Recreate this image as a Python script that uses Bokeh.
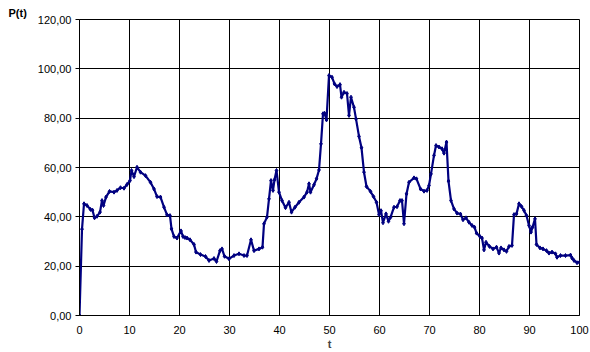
from bokeh.plotting import figure
from bokeh.models import Range1d, FixedTicker, CustomJSTickFormatter, Title, ColumnDataSource
from bokeh.embed import file_html
from bokeh.resources import INLINE

# time axis samples and the measured P(t) values
t = [0, 0.5, 0.9, 1.5, 2.2, 2.6, 3.0, 3.5, 4.1, 4.5, 4.8, 5.3, 6.0, 6.9, 7.5, 8.2, 8.9, 9.5,
     10.1, 10.4, 10.9, 11.5, 12.2, 13.2, 14.2, 14.9, 15.5, 16.2, 16.9, 17.5, 18.1, 18.4, 18.9, 19.5,
     20.3, 20.7, 21.1, 21.5, 22.1, 22.9, 23.3, 24.2, 25.2, 25.9, 26.9, 27.4, 28.1, 28.5, 29.0, 29.9,
     30.9, 31.9, 32.9, 33.5, 34.3, 34.9, 35.9, 36.6, 36.9, 37.5, 37.9, 38.3, 38.7, 39.0, 39.4, 39.9,
     40.5, 41.2, 41.9, 42.4, 43.1, 43.9, 44.9, 45.5, 45.9, 46.2, 46.9, 47.4, 47.9, 48.3, 48.7, 49.0,
     49.4, 49.9, 50.5, 51.0, 51.5, 52.1, 52.4, 52.9, 53.5, 53.9, 54.3, 54.9, 55.3, 55.9, 56.4, 56.9,
     57.4, 58.2, 58.8, 59.4, 59.9, 60.3, 60.7, 61.3, 61.8, 62.2, 62.9, 63.5, 64.1, 64.5, 64.9, 65.4,
     65.9, 66.9, 67.4, 68.2, 68.9, 69.5, 69.9, 70.3, 70.9, 71.3, 71.9, 72.5, 72.9, 73.4, 73.8, 74.3,
     74.9, 75.5, 76.2, 76.7, 77.3, 77.9, 78.5, 79.0, 79.4, 80.1, 80.5, 80.9, 81.3, 82.0, 82.7, 83.4,
     83.9, 84.3, 84.9, 85.4, 85.9, 86.5, 86.9, 87.4, 87.9, 88.4, 88.9, 89.4, 89.9, 90.3, 90.6, 91.1,
     91.4, 92.1, 92.7, 93.4, 93.9, 94.5, 95.2, 95.5, 96.2, 97.2, 98.2, 98.5, 98.9, 99.5, 100.0]
p_t = [0, 35, 45.3, 44.6, 43, 42.7, 39.6, 40.2, 41.9, 46.6, 44.6, 48, 50.3, 50, 50.7, 51.8, 51.6, 53.1,
       54.7, 58.8, 56.3, 60.1, 58.1, 56.7, 54, 51.3, 48.2, 48, 43.9, 40.8, 40.5, 35.1, 32, 31.4,
       34.3, 32, 31.6, 31.4, 30.7, 28.8, 25.7, 24.7, 23.9, 22.3, 23.1, 21.9, 26.3, 27, 24, 23,
       24.3, 25, 24.3, 24.3, 30.7, 26.3, 27, 27.7, 37.2, 39.9, 47.3, 54.7, 50.7, 55, 58.8, 50,
       46.6, 43.7, 45.9, 41.9, 43.9, 45.9, 48, 50, 53.4, 50, 53, 55.4, 59, 69.6, 81.8, 82,
       79.3, 97.3, 96.6, 93.9, 92.8, 93.6, 88.5, 90.5, 90, 81.1, 88.5, 84.4, 79.7, 72.6, 68, 58.1,
       52.3, 50.3, 48.2, 45.9, 40.9, 42.5, 37.6, 41.2, 38.2, 39.8, 43.9, 44.1, 46.6, 46.6, 37.2, 49.3,
       54, 55.8, 55.4, 51.3, 50.4, 50.7, 52.7, 57.4, 64.9, 68.9, 68.3, 67.6, 65.8, 70.3, 54.5, 46.6,
       43.2, 41.5, 41.1, 38.8, 39.6, 37.8, 36.5, 35.8, 33.4, 32, 31.4, 26.6, 29.7, 28, 27, 27.7,
       25.3, 27.4, 26.6, 26, 28, 28.4, 40.9, 41.2, 45.3, 44.2, 42.6, 40.5, 36.5, 33.8, 35.8, 39.2,
       28.8, 27.4, 27, 26.3, 25.3, 25.7, 25, 23.6, 24.3, 24.3, 24.5, 23.3, 22.3, 21.4, 21.6]

x_ticks = [0, 10, 20, 30, 40, 50, 60, 70, 80, 90, 100]
y_ticks = [0, 20, 40, 60, 80, 100, 120]

FONT = "Liberation Sans"
NAVY = "#000080"

src = ColumnDataSource(data=dict(t=t, p=p_t))

# y-axis caption drawn as a left-aligned title pulled over the tick labels
caption = Title(text="P(t)", align="left", offset=-71, standoff=1,
                text_font=FONT, text_font_style="bold", text_font_size="11px",
                text_color="black")

p = figure(width=590, height=352, output_backend="svg", toolbar_location=None,
           x_range=Range1d(0, 100), y_range=Range1d(0, 120), title=caption,
           min_border_left=79, min_border_right=11, min_border_top=19, min_border_bottom=37)
p.background_fill_color = "white"
p.border_fill_color = "white"
p.outline_line_color = "black"
p.outline_line_width = 1

for ax in (p.xaxis, p.yaxis):
    ax.axis_line_color = "black"
    ax.minor_tick_line_color = None
    ax.major_label_text_font = FONT
    ax.major_label_text_font_size = "11px"
    ax.major_label_text_color = "black"

p.xaxis.ticker = FixedTicker(ticks=x_ticks)
p.xaxis.major_tick_out = 0
p.xaxis.major_tick_in = 0
p.xaxis.major_label_standoff = 10
p.xaxis.axis_label = "t"
p.xaxis.axis_label_text_font = FONT
p.xaxis.axis_label_text_font_style = "bold"
p.xaxis.axis_label_text_font_size = "11px"
p.xaxis.axis_label_standoff = 1

p.yaxis.ticker = FixedTicker(ticks=y_ticks)
p.yaxis.major_tick_out = 4
p.yaxis.major_tick_in = 0
p.yaxis.major_tick_line_color = "black"
p.yaxis.major_label_standoff = 4
p.yaxis.formatter = CustomJSTickFormatter(code="return tick.toFixed(2).replace('.', ',');")

p.xgrid.ticker = FixedTicker(ticks=x_ticks)
p.ygrid.ticker = FixedTicker(ticks=y_ticks)
for g in (p.xgrid, p.ygrid):
    g.grid_line_color = "black"
    g.grid_line_width = 1
    g.grid_line_alpha = 1.0

p.line("t", "p", source=src, line_color=NAVY, line_width=2.2)
p.scatter("t", "p", source=src, marker="diamond", size=4, fill_color=NAVY, line_color=NAVY)

open("out.html", "w").write(file_html(p, INLINE))
